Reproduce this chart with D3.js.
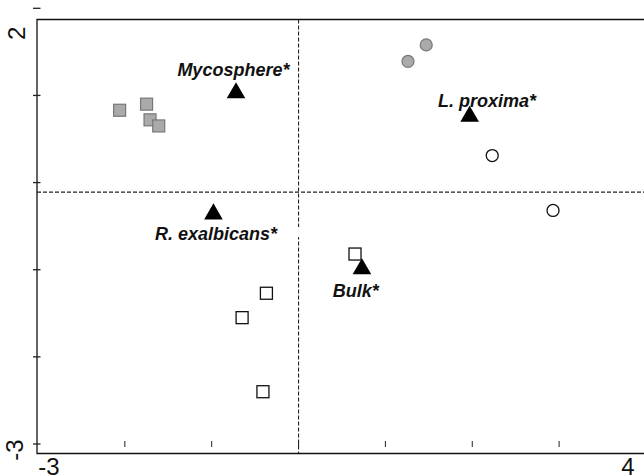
<!DOCTYPE html>
<html>
<head>
<meta charset="utf-8">
<script src="https://cdn.jsdelivr.net/npm/d3@7"></script>
<style>
  html, body { margin: 0; padding: 0; background: #fff; }
  svg { display: block; font-family: "Liberation Sans", Arial, Helvetica, sans-serif; }
</style>
</head>
<body>
<div id="js-d3"></div>
<script>
(function() {
  var width = 644, height = 476;

  // axis ranges and end labels
  var xDomain = [-3, 4];
  var yDomain = [-3, 2];
  var xTicks = [-3, -2, -1, 0, 1, 2, 3, 4];
  var yTicks = [-3, -2, -1, 0, 1, 2];
  var xTickLabels = ['-3', '4'];
  var yTickLabels = ['-3', '2'];

  // reference lines
  var refX = 0;
  var refY = -0.11;

  // samples
  var graySquareX = [-2.06, -1.75, -1.71, -1.61];
  var graySquareY = [0.83, 0.90, 0.72, 0.65];
  var openSquareX = [0.65, -0.37, -0.65, -0.41];
  var openSquareY = [-0.82, -1.27, -1.55, -2.40];
  var grayCircleX = [1.47, 1.26];
  var grayCircleY = [1.58, 1.39];
  var openCircleX = [2.23, 2.93];
  var openCircleY = [0.31, -0.32];

  // environmental vectors (triangles) and where their names sit
  var envNames = ['Mycosphere*', 'R. exalbicans*', 'L. proxima*', 'Bulk*'];
  var envX = [-0.72, -0.98, 1.97, 0.73];
  var envY = [1.04, -0.35, 0.77, -0.98];
  var envLabelX = [-0.75, -0.95, 2.17, 0.66];
  var envLabelY = [1.22, -0.66, 0.87, -1.31];

  var x = d3.scaleLinear().domain(xDomain).range([38, 38 + 7 * 86.85]);
  var y = d3.scaleLinear().domain(yDomain).range([444, 444 - 5 * 87.14]);

  var frameLeft = 37, frameTop = 19.5, frameBottom = 453.5;

  var zip = function(xs, ys) {
    return xs.map(function(v, i) { return [v, ys[i]]; });
  };

  var svg = d3.select('#js-d3').append('svg')
    .attr('width', width)
    .attr('height', height);

  // dashed reference lines
  svg.append('line')
    .attr('x1', x(refX)).attr('x2', x(refX))
    .attr('y1', frameTop).attr('y2', frameBottom)
    .attr('stroke', '#222').attr('stroke-width', 1.1)
    .attr('stroke-dasharray', '4,2');
  svg.append('line')
    .attr('x1', frameLeft).attr('x2', width)
    .attr('y1', y(refY)).attr('y2', y(refY))
    .attr('stroke', '#222').attr('stroke-width', 1.1)
    .attr('stroke-dasharray', '4,2');

  // small break in the vertical line beside the R. exalbicans label
  svg.append('rect')
    .attr('x', x(refX) - 3).attr('y', y(envLabelY[1]) - 13)
    .attr('width', 6).attr('height', 10)
    .attr('fill', '#fff');

  // frame (open on the right)
  svg.append('path')
    .attr('d', 'M' + width + ',' + frameTop + 'H' + frameLeft + 'V' + frameBottom + 'H' + width)
    .attr('fill', 'none').attr('stroke', '#111').attr('stroke-width', 1.3);

  // ticks
  svg.selectAll('line.xtick').data(xTicks.slice(1)).enter().append('line')
    .attr('class', 'xtick')
    .attr('x1', function(d) { return x(d); })
    .attr('x2', function(d) { return x(d); })
    .attr('y1', y(-3) - 3).attr('y2', y(-3) + 3)
    .attr('stroke', '#222').attr('stroke-width', 1);
  svg.selectAll('line.ytick').data(yTicks).enter().append('line')
    .attr('class', 'ytick')
    .attr('x1', frameLeft - 4).attr('x2', frameLeft + 3.5)
    .attr('y1', function(d) { return y(d); })
    .attr('y2', function(d) { return y(d); })
    .attr('stroke', '#222').attr('stroke-width', 1.3);

  // end labels
  svg.append('text').text(xTickLabels[0])
    .attr('x', x(xDomain[0]) + 11).attr('y', 475)
    .attr('text-anchor', 'middle').attr('font-size', '24px').attr('fill', '#111');
  svg.append('text').text(xTickLabels[1])
    .attr('x', x(xDomain[1]) - 18).attr('y', 475)
    .attr('text-anchor', 'middle').attr('font-size', '24px').attr('fill', '#111');
  svg.append('text').text(yTickLabels[0])
    .attr('transform', 'translate(23,' + (y(yDomain[0]) + 6) + ') rotate(-90)')
    .attr('text-anchor', 'middle').attr('font-size', '24px').attr('fill', '#111');
  svg.append('text').text(yTickLabels[1])
    .attr('transform', 'translate(25,' + (y(yDomain[1]) + 25) + ') rotate(-90)')
    .attr('text-anchor', 'middle').attr('font-size', '24px').attr('fill', '#111');

  // squares
  var sq = 12;
  svg.selectAll('rect.gsq').data(zip(graySquareX, graySquareY)).enter().append('rect')
    .attr('class', 'gsq')
    .attr('x', function(d) { return x(d[0]) - sq / 2; })
    .attr('y', function(d) { return y(d[1]) - sq / 2; })
    .attr('width', sq).attr('height', sq)
    .attr('fill', '#aaa').attr('stroke', '#777').attr('stroke-width', 1.2);
  svg.selectAll('rect.osq').data(zip(openSquareX, openSquareY)).enter().append('rect')
    .attr('class', 'osq')
    .attr('x', function(d) { return x(d[0]) - sq / 2; })
    .attr('y', function(d) { return y(d[1]) - sq / 2; })
    .attr('width', sq).attr('height', sq)
    .attr('fill', '#fff').attr('stroke', '#111').attr('stroke-width', 1.3);

  // circles
  svg.selectAll('circle.gc').data(zip(grayCircleX, grayCircleY)).enter().append('circle')
    .attr('class', 'gc')
    .attr('cx', function(d) { return x(d[0]); })
    .attr('cy', function(d) { return y(d[1]); })
    .attr('r', 6)
    .attr('fill', '#aaa').attr('stroke', '#777').attr('stroke-width', 1.2);
  svg.selectAll('circle.oc').data(zip(openCircleX, openCircleY)).enter().append('circle')
    .attr('class', 'oc')
    .attr('cx', function(d) { return x(d[0]); })
    .attr('cy', function(d) { return y(d[1]); })
    .attr('r', 6)
    .attr('fill', '#fff').attr('stroke', '#111').attr('stroke-width', 1.3);

  // triangles
  var tri = d3.symbol().type(d3.symbolTriangle).size(150);
  svg.selectAll('path.tri').data(zip(envX, envY)).enter().append('path')
    .attr('class', 'tri')
    .attr('d', tri)
    .attr('transform', function(d) { return 'translate(' + x(d[0]) + ',' + (y(d[1]) + 1) + ')'; })
    .attr('fill', '#000');

  svg.selectAll('text.env').data(envNames).enter().append('text')
    .attr('class', 'env')
    .text(function(d) { return d; })
    .attr('x', function(d, i) { return x(envLabelX[i]); })
    .attr('y', function(d, i) { return y(envLabelY[i]); })
    .attr('text-anchor', 'middle')
    .attr('font-size', '18px')
    .attr('font-weight', 'bold')
    .attr('font-style', 'italic')
    .attr('fill', '#111');

}).call(this);
</script>
</body>
</html>
